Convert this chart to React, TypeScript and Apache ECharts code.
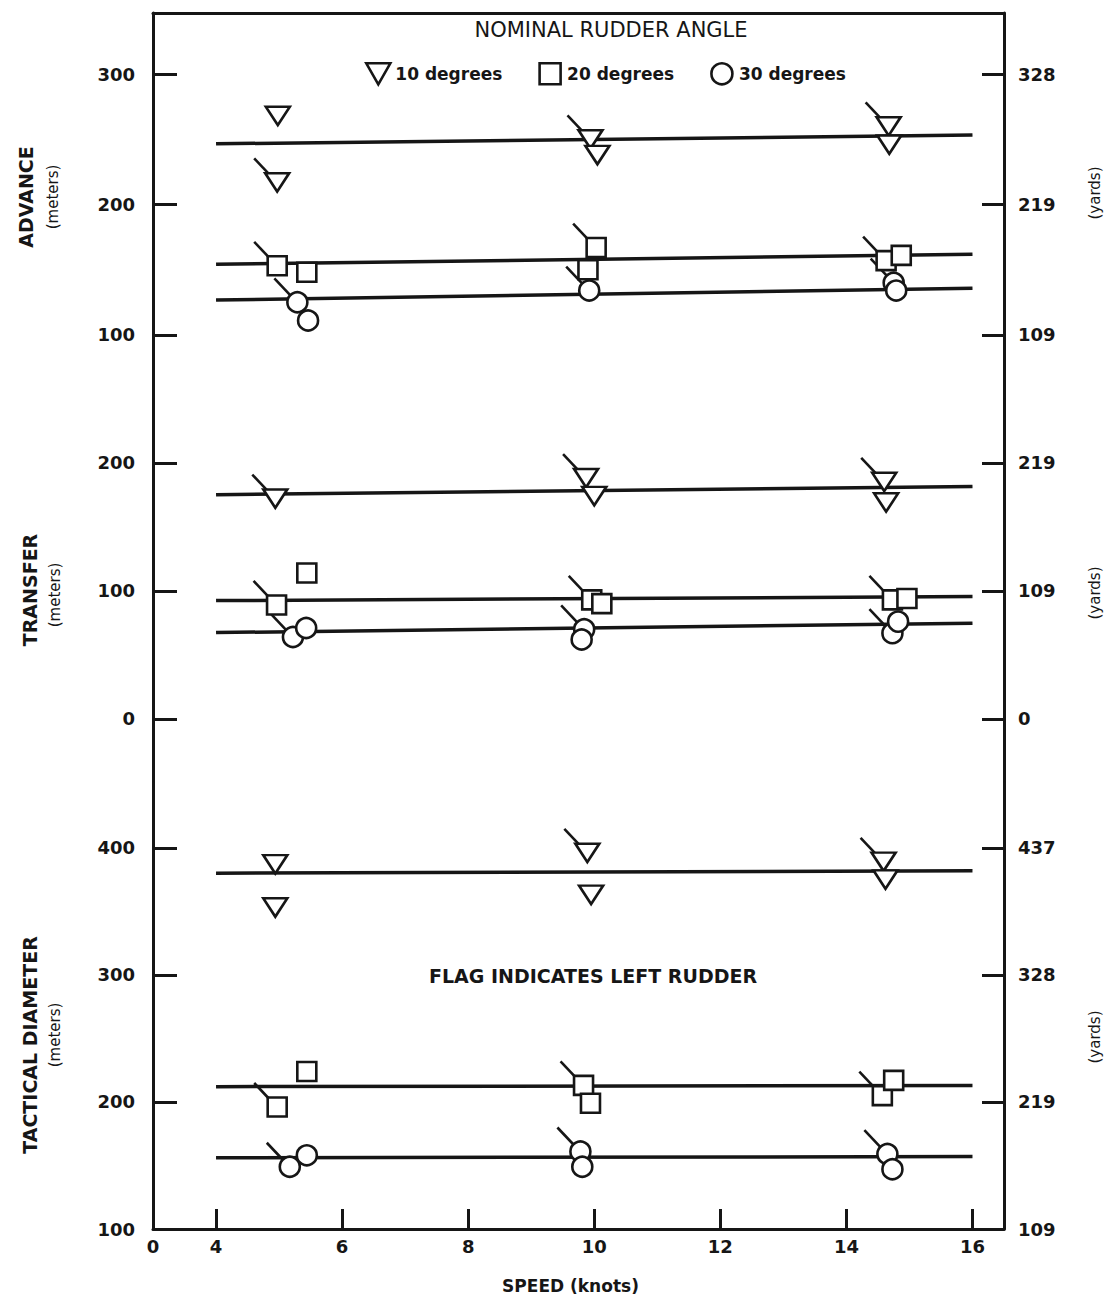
import React, { useEffect, useRef } from "react";
import * as echarts from "echarts";

// ---------- axes ----------
const speedMin = 3; // left edge of the (broken) speed axis, labelled "0"
const speedMax = 16.5;
const speedTickValues = [4, 6, 8, 10, 12, 14, 16];
const speedLabelValues = [3, 4, 6, 8, 10, 12, 14, 16];
const fitSpeeds = [4, 16];

const advanceTicks = [100, 200, 300];
const transferTicks = [0, 100, 200];
const tacticalTicks = [100, 200, 300, 400];

const rudderAngles = ["10 degrees", "20 degrees", "30 degrees"];

// ---------- ADVANCE (meters) ----------
const adv10Speed = [4.98, 4.97, 9.94, 10.05, 14.67, 14.68];
const adv10Meters = [268, 217, 250, 238, 260, 246];
const adv10Flag = [0, 1, 1, 0, 1, 0];
const adv20Speed = [4.97, 5.44, 10.03, 9.9, 14.63, 14.87];
const adv20Meters = [153, 148, 167, 150, 157, 161];
const adv20Flag = [1, 0, 1, 0, 1, 0];
const adv30Speed = [5.29, 5.46, 9.92, 14.75, 14.79];
const adv30Meters = [125, 111, 134, 140, 134];
const adv30Flag = [1, 0, 1, 1, 0];
const adv10Fit = [246.6, 253.4];
const adv20Fit = [154.2, 161.8];
const adv30Fit = [126.7, 135.7];

// ---------- TRANSFER (meters) ----------
const tr10Speed = [4.94, 9.87, 10.0, 14.6, 14.63];
const tr10Meters = [172, 188, 174, 185, 169];
const tr10Flag = [1, 1, 0, 1, 0];
const tr20Speed = [4.96, 5.44, 9.96, 10.12, 14.73, 14.96];
const tr20Meters = [89, 114, 93, 90, 93, 94];
const tr20Flag = [1, 0, 1, 0, 1, 0];
const tr30Speed = [5.22, 5.43, 9.84, 9.8, 14.73, 14.82];
const tr30Meters = [64, 71, 70, 62, 67, 76];
const tr30Flag = [1, 0, 1, 0, 1, 0];
const tr10Fit = [175, 181.5];
const tr20Fit = [92.4, 95.6];
const tr30Fit = [67.4, 74.8];

// ---------- TACTICAL DIAMETER (meters) ----------
const td10Speed = [4.94, 4.94, 9.89, 9.95, 14.59, 14.62];
const td10Meters = [387, 353, 396, 363, 389, 375];
const td10Flag = [0, 0, 1, 0, 1, 0];
const td20Speed = [4.97, 5.44, 9.83, 9.94, 14.57, 14.75];
const td20Meters = [196, 224, 213, 199, 205, 217];
const td20Flag = [1, 0, 1, 0, 1, 0];
const td30Speed = [5.17, 5.44, 9.78, 9.81, 14.65, 14.73];
const td30Meters = [149, 158, 161, 149, 159, 147];
const td30Flag = [1, 0, 1, 0, 1, 0];
const td10Fit = [380, 382];
const td20Fit = [212, 213];
const td30Fit = [156, 157];

const INK = "#161616";
const FONT = '"DejaVu Sans", "Liberation Sans", Arial, sans-serif';
const TRI = "path://M0,0L24,0L12,21Z";
const SQ = "path://M0,0L20,0L20,20L0,20Z";

type Group = { speed: number[]; meters: number[]; flag: number[]; fit: number[] };

const panels: { min: number; max: number; ticks: number[]; groups: Group[] }[] = [
  {
    min: 50, max: 347, ticks: advanceTicks,
    groups: [
      { speed: adv10Speed, meters: adv10Meters, flag: adv10Flag, fit: adv10Fit },
      { speed: adv20Speed, meters: adv20Meters, flag: adv20Flag, fit: adv20Fit },
      { speed: adv30Speed, meters: adv30Meters, flag: adv30Flag, fit: adv30Fit },
    ],
  },
  {
    min: -50, max: 249, ticks: transferTicks,
    groups: [
      { speed: tr10Speed, meters: tr10Meters, flag: tr10Flag, fit: tr10Fit },
      { speed: tr20Speed, meters: tr20Meters, flag: tr20Flag, fit: tr20Fit },
      { speed: tr30Speed, meters: tr30Meters, flag: tr30Flag, fit: tr30Fit },
    ],
  },
  {
    min: 100, max: 451, ticks: tacticalTicks,
    groups: [
      { speed: td10Speed, meters: td10Meters, flag: td10Flag, fit: td10Fit },
      { speed: td20Speed, meters: td20Meters, flag: td20Flag, fit: td20Fit },
      { speed: td30Speed, meters: td30Meters, flag: td30Flag, fit: td30Fit },
    ],
  },
];

const gridBoxes = [
  { left: 153, width: 851, top: 13, height: 387 },
  { left: 153, width: 851, top: 400, height: 383 },
  { left: 153, width: 851, top: 783, height: 446 },
];

const symbols = [TRI, "rect", "circle"];
const symbolSizes: any[] = [[24, 21], 19, 20];

function buildOption(): any {
  const labelStyle = { color: INK, fontFamily: FONT, fontWeight: "bold", fontSize: 18 };
  const lineStyle = { color: INK, width: 3 };

  const xAxis = panels.map((_, i) => {
    const base: any = {
      type: "value", gridIndex: i, min: speedMin, max: speedMax,
      splitLine: { show: false },
    };
    if (i === 0) {
      return { ...base, position: "top", axisLine: { show: true, onZero: false, lineStyle }, axisTick: { show: false }, axisLabel: { show: false } };
    }
    if (i === 1) return { ...base, show: false };
    return {
      ...base,
      position: "bottom",
      axisLine: { show: true, onZero: false, lineStyle },
      axisTick: { show: true, inside: true, length: 20, customValues: speedTickValues, lineStyle },
      axisLabel: {
        ...labelStyle, margin: 8, customValues: speedLabelValues,
        formatter: (v: number) => (v === speedMin ? "0" : String(v)),
      },
      name: "SPEED (knots)",
      nameLocation: "middle",
      nameGap: 48,
      nameTextStyle: { color: INK, fontFamily: FONT, fontWeight: "bold", fontSize: 17, padding: [0, 16, 0, 0] },
    };
  });

  const yLeft = panels.map((p, i) => ({
    type: "value", gridIndex: i, position: "left", min: p.min, max: p.max,
    axisLine: { show: true, onZero: false, lineStyle },
    axisTick: { show: true, inside: true, length: 24, customValues: p.ticks, lineStyle },
    axisLabel: { ...labelStyle, margin: 18, customValues: p.ticks },
    splitLine: { show: false },
  }));
  const yRight = panels.map((p, i) => ({
    type: "value", gridIndex: i, position: "right", min: p.min, max: p.max,
    axisLine: { show: true, onZero: false, lineStyle },
    axisTick: { show: true, inside: true, length: 22, customValues: p.ticks, lineStyle },
    axisLabel: {
      ...labelStyle, margin: 14, customValues: p.ticks,
      formatter: (v: number) => String(Math.round(v / 0.9144)),
    },
    splitLine: { show: false },
  }));

  const series: any[] = [];
  panels.forEach((p, i) => {
    p.groups.forEach((g) => {
      series.push({
        type: "line", xAxisIndex: i, yAxisIndex: i, silent: true,
        data: fitSpeeds.map((s, k) => [s, g.fit[k]]),
        symbol: "none", showSymbol: false,
        lineStyle: { color: INK, width: 3.5 }, z: 2,
      });
    });
    const flagged: number[][] = [];
    p.groups.forEach((g) => g.speed.forEach((s, k) => { if (g.flag[k]) flagged.push([s, g.meters[k]]); }));
    series.push({
      type: "custom", xAxisIndex: i, yAxisIndex: i, silent: true, z: 3,
      data: flagged,
      renderItem: (_params: any, api: any) => {
        const c = api.coord([api.value(0), api.value(1)]);
        return {
          type: "line",
          shape: { x1: c[0] - 6, y1: c[1] - 6, x2: c[0] - 23, y2: c[1] - 24 },
          style: { stroke: INK, lineWidth: 2.6 },
        };
      },
    });
    p.groups.forEach((g, a) => {
      series.push({
        type: "scatter", name: rudderAngles[a], xAxisIndex: i, yAxisIndex: i, z: 4,
        symbol: symbols[a], symbolSize: symbolSizes[a], symbolKeepAspect: true,
        itemStyle: { color: "#ffffff", borderColor: INK, borderWidth: 2.6, opacity: 1 },
        emphasis: { disabled: true },
        data: g.speed.map((s, k) => [s, g.meters[k]]),
      });
    });
  });

  const rot = Math.PI / 2;
  const t = (x: number, y: number, text: string, font: string, rotation = 0) => ({
    type: "text", x, y, rotation, silent: true,
    style: { text, font, fill: INK, align: "center", verticalAlign: "middle" },
  });

  return {
    animation: false,
    backgroundColor: "#ffffff",
    grid: gridBoxes,
    xAxis,
    yAxis: [...yLeft, ...yRight],
    legend: {
      left: 360, top: 57, itemWidth: 24, itemHeight: 21, itemGap: 36,
      selectedMode: false,
      data: [
        { name: rudderAngles[0], icon: TRI },
        { name: rudderAngles[1], icon: SQ },
        { name: rudderAngles[2], icon: "circle" },
      ],
      itemStyle: { color: "#ffffff", borderColor: INK, borderWidth: 2.6 },
      textStyle: { color: INK, fontFamily: FONT, fontWeight: "bold", fontSize: 17 },
    },
    graphic: [
      t(611, 30, "NOMINAL RUDDER ANGLE", `21px ${FONT}`),
      t(593, 976, "FLAG INDICATES LEFT RUDDER", `bold 19px ${FONT}`),
      t(26, 197, "ADVANCE", `bold 19px ${FONT}`, rot),
      t(53, 197, "(meters)", `15px ${FONT}`, rot),
      t(30, 590, "TRANSFER", `bold 19px ${FONT}`, rot),
      t(55, 595, "(meters)", `15px ${FONT}`, rot),
      t(30, 1045, "TACTICAL DIAMETER", `bold 19px ${FONT}`, rot),
      t(55, 1035, "(meters)", `15px ${FONT}`, rot),
      t(1095, 193, "(yards)", `15px ${FONT}`, rot),
      t(1095, 593, "(yards)", `15px ${FONT}`, rot),
      t(1095, 1037, "(yards)", `15px ${FONT}`, rot),
    ],
    series,
  };
}

export default function App() {
  const ref = useRef<HTMLDivElement>(null);
  useEffect(() => {
    document.body.style.margin = "0";
    if (!ref.current) return;
    const chart = echarts.init(ref.current, undefined, { renderer: "svg" });
    chart.setOption(buildOption());
    return () => chart.dispose();
  }, []);
  return <div ref={ref} style={{ width: 1109, height: 1301, background: "#fff" }} />;
}
